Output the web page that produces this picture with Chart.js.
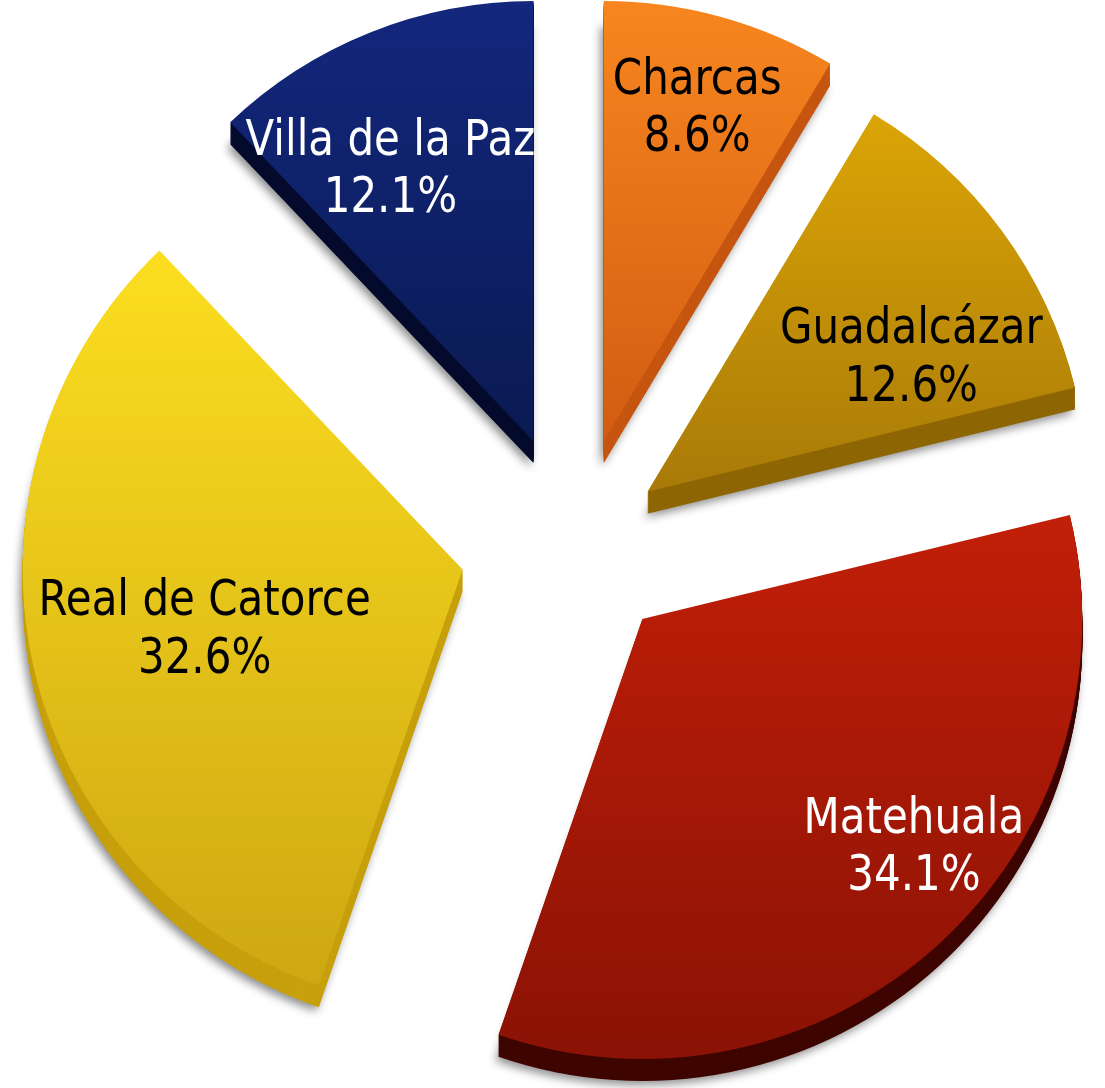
<!DOCTYPE html>
<html>
<head>
<meta charset="utf-8">
<script src="https://cdn.jsdelivr.net/npm/chart.js@4/dist/chart.umd.min.js"></script>
<style>
  html, body { margin: 0; padding: 0; background: #fff; }
  #wrap { width: 1105px; height: 1088px; position: relative; }
</style>
</head>
<body>
<div id="wrap"><canvas id="chartPie"></canvas></div>
<script>
// Datos (porcentaje por municipio)
var towns  = ['Charcas', 'Guadalcázar', 'Matehuala', 'Real de Catorce', 'Villa de la Paz'];
var shares = [8.6, 12.6, 34.1, 32.6, 12.1];

// Estilo
var faceTop    = ['#F7861F', '#DBA506', '#C21F08', '#FCDE20', '#13277D'];
var faceBottom = ['#D25C12', '#A97A08', '#8A1205', '#CDA812', '#0A1A52'];
var sideColor  = ['#C65510', '#8E6604', '#3E0500', '#C7A00C', '#030A2B'];
var textColor  = ['#000000', '#000000', '#ffffff', '#000000', '#ffffff'];
var explode    = [108, 90, 100, 115, 112];     // px, separacion de cada rebanada
var labelPos   = [[0.795, 0], [0.677, 8.7], [0.80, -8.2], [0.60, 0], [0.707, -5.6]]; // [fraccion radio, giro en grados]
var depth = 22;

function sliceBounds(arc) {
    var ys = [arc.y], a0 = arc.startAngle, a1 = arc.endAngle, r = arc.outerRadius;
    ys.push(arc.y + Math.sin(a0) * r, arc.y + Math.sin(a1) * r);
    for (var n = -2; n <= 2; n++) {
        var up = -Math.PI / 2 + n * 2 * Math.PI, dn = Math.PI / 2 + n * 2 * Math.PI;
        if (up > a0 && up < a1) ys.push(arc.y - r);
        if (dn > a0 && dn < a1) ys.push(arc.y + r);
    }
    return [Math.min.apply(null, ys), Math.max.apply(null, ys)];
}

var pie3d = {
    id: 'pie3d',
    beforeDatasetsDraw: function(chart) {
        var ctx = chart.ctx, ca = chart.chartArea;
        var cx = (ca.left + ca.right) / 2, cy = (ca.top + ca.bottom) / 2;
        var meta = chart.getDatasetMeta(0);

        // separar rebanadas y poner degradado
        meta.data.forEach(function(arc, i) {
            var mid = (arc.startAngle + arc.endAngle) / 2;
            arc.x = cx + Math.cos(mid) * explode[i];
            arc.y = cy + Math.sin(mid) * explode[i];
            var b = sliceBounds(arc);
            var g = ctx.createLinearGradient(0, b[0], 0, b[1]);
            g.addColorStop(0, faceTop[i]);
            g.addColorStop(1, faceBottom[i]);
            arc.options.backgroundColor = g;
        });

        // costados (extrusion hacia abajo)
        meta.data.forEach(function(arc, i) {
            var face = arc.options.backgroundColor;
            arc.options.backgroundColor = sideColor[i];
            for (var k = depth; k >= 1; k--) {
                ctx.save();
                if (k === depth) {
                    ctx.shadowColor = 'rgba(0,0,0,0.45)';
                    ctx.shadowBlur = 10;
                    ctx.shadowOffsetX = -3;
                    ctx.shadowOffsetY = 4;
                }
                ctx.translate(0, k);
                arc.draw(ctx);
                ctx.restore();
            }
            arc.options.backgroundColor = face;
        });
    },
    afterDatasetsDraw: function(chart) {
        var ctx = chart.ctx;
        var meta = chart.getDatasetMeta(0);
        meta.data.forEach(function(arc, i) {
            var mid = (arc.startAngle + arc.endAngle) / 2 + labelPos[i][1] * Math.PI / 180;
            var rr = arc.outerRadius * labelPos[i][0];
            var px = arc.x + Math.cos(mid) * rr;
            var py = arc.y + Math.sin(mid) * rr;
            var lines = [towns[i], shares[i].toFixed(1) + '%'];
            ctx.save();
            ctx.fillStyle = textColor[i];
            ctx.font = '50px "DejaVu Sans"';
            ctx.textAlign = 'center';
            ctx.textBaseline = 'alphabetic';
            lines.forEach(function(t, j) {
                ctx.save();
                ctx.translate(px, py - 10 + j * 57.5);
                ctx.scale(0.84, 1);
                ctx.fillText(t, 0, 0);
                ctx.restore();
            });
            ctx.restore();
        });
    }
};

var ctx = document.getElementById('chartPie').getContext('2d');
var chart = new Chart(ctx, {
    type: 'pie',
    data: {
        labels: towns,
        datasets: [{
            data: shares,
            backgroundColor: faceTop,
            borderWidth: 0,
            radius: 440
        }]
    },
    options: {
        responsive: true,
        maintainAspectRatio: false,
        animation: false,
        events: [],
        layout: { padding: { left: 45, right: 0, top: 2, bottom: 0 } },
        plugins: {
            legend: { display: false },
            tooltip: { enabled: false }
        }
    },
    plugins: [pie3d]
});
</script>
</body>
</html>
